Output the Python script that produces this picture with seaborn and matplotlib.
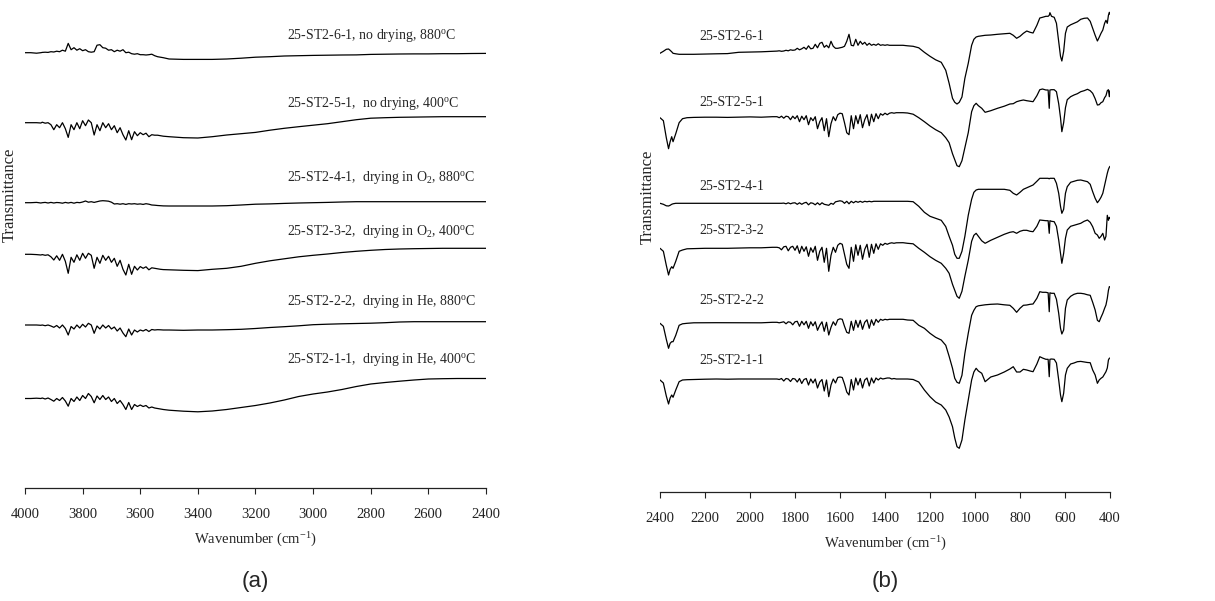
import numpy as np
import pandas as pd
import matplotlib
matplotlib.use("Agg")
import matplotlib.pyplot as plt
import seaborn as sns

# ---- wavenumber grids (cm-1) ----
left_wn = [4000, 3980, 3960, 3945] + list(range(3940, 3510, -10)) + list(range(3500, 2350, -50))
right_wn = ([2400, 2385, 2372, 2362, 2355, 2348, 2342, 2330, 2315, 2300,
             2280, 2250, 2200, 2150, 2100, 2050, 2000, 1950, 1900]
            + list(range(1880, 1330, -10))
            + [1320, 1300, 1275, 1250, 1225, 1200, 1175, 1150, 1130, 1115,
               1100, 1090, 1080, 1070, 1058, 1045, 1030, 1015, 1005, 995,
               985, 970, 955, 930, 900, 870, 845, 830, 815, 800,
               785, 770, 755, 742, 725, 712, 700, 685, 675, 670,
               667, 660, 648, 638, 628, 620, 614, 606, 598, 590,
               575, 560, 545, 530, 515, 500, 488, 477, 466, 456,
               448, 440, 432, 424, 418, 412, 407, 403, 400])

samples = ["25-ST2-6-1", "25-ST2-5-1", "25-ST2-4-1", "25-ST2-3-2", "25-ST2-2-2", "25-ST2-1-1"]
left_labels = [
    "25-ST2-6-1, no drying, 880$^{\\mathrm{o}}$C",
    "25-ST2-5-1,  no drying, 400$^{\\mathrm{o}}$C",
    "25-ST2-4-1,  drying in O$_{2}$, 880$^{\\mathrm{o}}$C",
    "25-ST2-3-2,  drying in O$_{2}$, 400$^{\\mathrm{o}}$C",
    "25-ST2-2-2,  drying in He, 880$^{\\mathrm{o}}$C",
    "25-ST2-1-1,  drying in He, 400$^{\\mathrm{o}}$C",
]

# ---- transmittance (a.u.), relative to the first point of each trace ----
# panel (a): 4000-2400 cm-1
l_61 = [0, 0, -0.5, 0,
        0.3, 0.5, 0.3, 1, 0.7, 1.5, 1, 2.5, 1.5, 9.3,
        3, 5, 2.5, 4, 2, 3, 1, 0.5, 1, 7.5,
        8, 5, 4.5, 2.5, 3, 1, 2.5, 1.5, 3, 0,
        0.5, -1, -1.5, -1, -2, -2, -2.3, -2, -1.5, -3,
        -4, -4.5, -5,
        -6.3, -6.7, -6.7, -6.7, -6.3, -5.5, -4.5, -4, -3.3, -3, -2.7, -2.5,
        -2.3, -2.2, -1.7, -1.5, -1.3, -1.2, -1.2, -1, -1, -0.8, -0.7]
l_51 = [0, 0, 0, -0.3,
        0.5, -0.5, 0, -2, -7, -2, -5, 0, -6, -14.7,
        -2, -7, 0, -6, 2, -3, 2.7, 0, -12.3, -2,
        -8, 0, -5, -1, -7, -3, -10, -5, -12, -17.3,
        -8, -17, -9, -13, -10, -12, -10.5, -14, -12, -12.5,
        -12.5, -13, -13.5,
        -14, -15, -15.3, -14, -12.3, -11, -9.7, -7.5, -5.6, -4, -2.5, -1,
        1, 3, 4.5, 5, 5.4, 5.6, 5.8, 6, 6, 6, 6]
l_41 = [0, 0, 0.3, -0.3,
        0, 0.3, -0.3, 0.3, -0.3, 0.2, 0, -0.5, 0.3, -0.3,
        0.3, -0.5, 0.3, 0, 0.7, 1.7, 0.5, 1, 0.3, 1,
        1.7, 2, 1.8, 1.5, 0.5, -1.3, -1, -1.5, -1, -1.7,
        -1, -1.3, -1, -1.5, -1.2, -1.7, -1, -1.5, -2.3, -2.5,
        -2.8, -3, -3.2,
        -3.3, -3.3, -3.3, -3.3, -3, -2.3, -1.5, -1.2, -0.7, -0.3, 0, 0.3,
        0.7, 1, 1, 1, 1, 1, 1, 1, 1, 1, 1]
l_32 = [0, 0, -0.3, -0.7,
        -0.3, -1, -0.5, -2.5, -5.7, -1.5, -6, 0, -7, -19,
        -3, -8, -0.5, -6, 1, -4, 1, -1, -14, -3,
        -9, -1, -6, -2, -8, -4, -12, -6, -15, -20.7,
        -10, -20, -12, -15.7, -12.3, -14, -12.5, -15.5, -13.5, -14,
        -14.5, -15, -15.3,
        -15.5, -16, -16.3, -15, -14, -12, -9, -6.5, -4.5, -2.5, -1, 0.3,
        1.8, 3, 4, 4.8, 5.3, 5.6, 5.8, 6, 6, 6, 6]
l_22 = [0, 0, 0, -0.3,
        0, -0.7, 0, -1, -2.3, -0.5, -3, 0, -3.5, -10,
        -1.5, -4, 0, -3, 0.7, -2, 1.7, 0, -8.3, -1,
        -4, 0, -3, -0.5, -4, -2, -6, -3, -8, -11.7,
        -4, -10, -5, -7, -5, -6, -4.5, -6.5, -4.5, -5,
        -4.7, -4.8, -5,
        -5, -5.3, -5, -5, -4.7, -4.3, -3.5, -2.5, -1.7, -0.8, 0.3, 0.8,
        1.2, 1.5, 1.8, 2.3, 3, 3.3, 3.3, 3.3, 3.3, 3.3, 3.3]
l_11 = [0, 0, 0.3, 0,
        0.5, -0.5, 0.5, -1, -2.7, 0, -2, 1, -2.5, -7.7,
        0, -3, 1.5, -2, 3, 0, 5, 2, -4.3, 2.5,
        -1, 3, -1, 1.5, -3, 0, -5, -2, -6, -11,
        -4, -11, -6, -8, -6.5, -8, -7, -9.5, -8.5, -9.5,
        -10, -10.5, -11,
        -11.7, -12.7, -13.3, -12.5, -11, -9, -7, -4.5, -1.5, 2, 4.5, 6.5,
        9, 12, 14.5, 16, 17.3, 18.5, 19.5, 19.8, 20, 20, 20]
left_offsets = [435.3, 365.3, 285.3, 233.7, 163, 89.5]

# panel (b): 2400-400 cm-1
r_61 = ([0, 2, 4, 4.3, 3, 1.5, 0, -0.5, -1, -1, -1, -1, -0.7, -0.5, -0.3, 1, 1.2, 1.5, 2]
        + [2.2, 2.5, 2, 2.3, 3, 2.5, 3.5, 3, 3.3, 5,
           3.5, 4.5, 6, 4, 7.5, 4.5, 5, 9, 5.5, 10,
           11, 6, 8, 5.5, 12, 7, 5, 5, 5.5, 6,
           7, 12, 19, 8, 7.5, 14, 8, 12, 9, 11,
           8, 10, 8, 9, 8, 9.5, 8, 8.5, 8, 8.5,
           8, 8, 8, 8, 8]
        + [8, 7.5, 7, 5.5, 1, -3, -6.5, -9, -17, -30,
           -45, -49, -50.7, -49, -43.7, -25, -10, 8, 14, 16.3,
           17, 17.5, 18, 18.3, 19, 19.5, 20, 18, 15, 17,
           20, 22.3, 21, 20.3, 28, 35.3, 36, 37, 37, 38,
           40.6, 37, 36, 30, 12, -3, -7.7, 2, 20, 26.3,
           28.5, 30, 31.5, 34, 35, 35.3, 32, 25, 18, 12.3,
           16, 20, 23.3, 30, 33, 30, 38, 41, 39])
r_51 = ([0, -3, -20, -31, -24, -19, -24, -16, -5, -1, 0, 0.3, 0.5, 0.5, 0.3, 0.5, 0.8, 0.5, 1]
        + [1, 0, 1.5, -0.5, 1.5, 1, -2, 1.5, -1, 2,
           -4, 1.5, -2, 2, -7, 0, -3, 1, -11, -4,
           0, -13, -1, -19, -6, 1, -3, 3, 4.5, 4,
           -5, -15, -17, 2, -11, 2, -6, 3, -10, -2,
           3, -8, 3.5, -4, 4, -1, 4, 2.5, 4.5, 3,
           4.5, 5, 4.5, 5, 5]
        + [5, 4.7, 3.5, 0, -4, -8.3, -12, -15, -20, -25,
           -36, -42, -48, -49, -43, -30, -15, 6, 12, 14.4,
           12, 9.4, 5.4, 7, 9.4, 11.5, 13.7, 14, 16, 17,
           17.7, 17, 16.5, 16, 22, 28, 28.7, 27.7, 27.7, 9.4,
           27.7, 28, 28, 26, 14, 0, -14, -5, 10, 18,
           21, 22.7, 24, 26, 27, 28.4, 27, 24.4, 19, 12.7,
           13, 15, 16, 20, 22, 27, 28, 21, 27])
r_41 = ([0, -1, -2.5, -2.7, -2, -1, -0.5, 0, 0, 0, 0, 0, 0, 0, 0, 0, 0, 0, 0]
        + [0, 0, 0, 0.2, -0.5, 0.5, -0.5, 0.3, 0.5, -1,
           0.5, -1, 0.3, 1, -1.5, 0.5, 0, -1.5, 0.5, -1.5,
           0.5, -1, -1.5, -2, 0, -1, 1.5, 2, 2.5, 2,
           0, 2, -0.5, 2, 0.5, 2, 1, 2, 1, 2,
           1.5, 2, 1.5, 2, 2, 2, 2, 2, 2, 2,
           2, 2, 2, 2, 2]
        + [2, 2, 1.6, -3, -9, -13, -15, -17, -23.4, -33,
           -42, -51, -55, -55, -48, -33, -12, 4, 11, 13.3,
           14, 14, 14, 14, 14, 14, 13, 10, 8.3, 11,
           14, 15.5, 17, 18.3, 22, 25, 25, 25, 25, 24.5,
           25, 25, 25, 20, 10, -3, -10, -6, 10, 16.6,
           21, 22, 23, 23.3, 22.5, 21.6, 19, 11.6, 5, 0.6,
           3, 6, 10, 18, 24, 30, 34, 36, 37])
r_32 = ([0, -3, -17, -26.7, -21, -18.4, -20, -13, -3, -1.7, -0.5, -0.3, 0, 0, 0, 0.3, 0.5, 0.5, 1]
        + [1, 0.5, -1.5, 1.5, 2, -2.5, 1, 2, -2, 2.5,
           -5, 2, -3, 1.5, -8, 0.5, -4, 2, -12, -3,
           1, -14, 0, -23, -7, 1, -4, 3, 5, 4,
           -6, -16, -20, 1, -13, 3.5, -7, 3, -11, -1,
           4, -9, 4, -5, 4.5, -1, 4.5, 3, 5, 4,
           5, 5.5, 5, 5.5, 5.5]
        + [5.6, 5, 4.5, 0, -4, -8.4, -12, -15, -20, -25,
           -36, -42, -48, -50, -43, -28, -12, 7, 13, 15,
           12, 7.5, 5, 8, 11, 14, 16, 16.6, 15, 17,
           18, 18, 17, 16.6, 22, 28.3, 28, 27.6, 27.6, 15,
           27.6, 27, 26.6, 22, 8.3, -5, -15, -5, 10, 18.3,
           22, 23, 24, 25, 27, 28.3, 26, 21.6, 15, 13.3,
           10, 12, 15, 8.3, 12, 33, 28, 31, 30])
r_22 = ([0, -3, -16, -25, -20, -18.4, -18.4, -12, -2, -0.5, 0, 0.5, 0.6, 0.6, 0.6, 0.6, 0.7, 0.5, 1]
        + [1, 0.5, 1, 1.5, -0.5, 1.5, 1, -1.5, 1.5, 2,
           -3, 2, -1.5, 2, -5, 1.5, -2.5, 1.5, -7, -2,
           1.5, -8, 1, -11.7, -4, 1.5, -2, 3.5, 4.5, 4,
           -3, -9, -10, 2, -7, 3, -4, 3, -6, 1,
           3.5, -5, 3.5, -2, 4, 1, 4, 3, 4, 3.5,
           4, 4, 4, 4, 4]
        + [4, 3.3, 3, -2, -5, -10, -14, -16.7, -22, -33,
           -45, -55, -59, -60, -52, -30, -10, 8, 13, 16.6,
           17.5, 18, 18.5, 19, 19.3, 18.5, 18, 15, 11, 15,
           18, 18.3, 19, 19.3, 25, 31.6, 31, 31, 30.5, 11.6,
           30.5, 30, 30, 24, 10, -5, -10.7, -6.7, 15, 23.3,
           27, 29, 30, 30, 29.5, 28.5, 28, 21, 13.3, 3,
           1.6, 6, 10, 15, 18.3, 25, 33, 36.6, 36.6])
r_11 = ([0, -3, -16, -24, -18, -15, -17.3, -10, -1.7, 0, 0.3, 0.5, 0.8, 1, 0.8, 1, 1, 1, 1]
        + [1, 0.5, 1.5, -1, 1.5, 1, -1.5, 1.5, 1, -2,
           1.5, -3.5, 0.5, 1.5, -5, 1, -3, 1, -8, -2,
           0.5, -11, 0, -16.7, -5, 1, -3, 2.5, 3, 2.5,
           -4, -12, -15, 0.5, -10, 2, -5, 1.5, -8, 0,
           2, -6, 2, -3, 2, 0, 2, 1, 1.5, 2,
           2, 1, 1.5, 1, 1]
        + [1, 1, 0.5, -2, -10, -16.7, -22, -25, -30, -37,
           -46.7, -58, -66.7, -68.3, -60, -40, -20, 0, 8, 11.7,
           9, 6.7, -1.7, 3, 5, 8, 11, 13.3, 8, 8,
           10.7, 10, 9, 8.3, 16, 23.3, 22, 20.7, 20.7, 3.3,
           20.7, 21, 20.7, 17, 0, -15, -21.7, -13.3, 5, 11.7,
           16, 17, 18.3, 18.6, 18, 17.5, 17.3, 10, 5, -3.3,
           0, 1.7, 3, 6, 8.3, 12, 20, 21.7, 22])
right_offsets = [438.7, 374.3, 288.7, 243.7, 168.7, 112]

left_traces = [l_61, l_51, l_41, l_32, l_22, l_11]
right_traces = [r_61, r_51, r_41, r_32, r_22, r_11]


def build_frame(wn, traces, offsets):
    rows = []
    for name, vals, off in zip(samples, traces, offsets):
        assert len(vals) == len(wn), (name, len(vals), len(wn))
        rows.append(pd.DataFrame({"wn": wn, "T": np.array(vals) + off, "sample": name}))
    return pd.concat(rows, ignore_index=True)


df_left = build_frame(left_wn, left_traces, left_offsets)
df_right = build_frame(right_wn, right_traces, right_offsets)

# ---- style ----
sns.set_style("ticks")
plt.rcParams["font.family"] = ["Liberation Serif", "DejaVu Serif"]
plt.rcParams["mathtext.fontset"] = "custom"
plt.rcParams["mathtext.rm"] = "Liberation Serif"
plt.rcParams["mathtext.it"] = "Liberation Serif:italic"

fig = plt.figure(figsize=(12.15, 6.01), dpi=100)
ax_l = fig.add_axes([25 / 1215, 113 / 601, 461 / 1215, 488 / 601])
ax_r = fig.add_axes([660 / 1215, 109 / 601, 450 / 1215, 492 / 601])

sns.lineplot(data=df_left, x="wn", y="T", units="sample", estimator=None,
             sort=False, color="black", lw=0.9, ax=ax_l)
sns.lineplot(data=df_right, x="wn", y="T", units="sample", estimator=None,
             sort=False, color="black", lw=0.9, ax=ax_r)

ax_l.set_xlim(4000, 2400)
ax_l.set_ylim(0, 488)
ax_l.set_xticks(range(4000, 2399, -200))
ax_r.set_xlim(2400, 400)
ax_r.set_ylim(0, 492)
ax_r.set_xticks(range(2400, 399, -200))

# text labels for each trace
left_label_y = [453, 385, 311, 256, 186, 129]
right_label_y = [455, 389, 306, 262, 192, 131]
for txt, y in zip(left_labels, left_label_y):
    ax_l.text(3091, y, txt, fontsize=10, ha="left", va="center")
for txt, y in zip(samples, right_label_y):
    ax_r.text(2227, y, txt, fontsize=10, ha="left", va="center")

for ax in (ax_l, ax_r):
    sns.despine(ax=ax, left=True)
    ax.spines["bottom"].set_linewidth(0.9)
    ax.spines["bottom"].set_color("#222222")
    ax.set_yticks([])
    ax.set_ylabel("")
    ax.tick_params(axis="x", direction="out", length=4, width=0.8,
                   pad=10.5, labelsize=10.5, colors="#222222")
    ax.set_xlabel("Wavenumber (cm$^{-1}$)", fontsize=10.5, labelpad=7)
    ax.patch.set_alpha(0)

fig.text(10 / 1215, 1 - 195 / 601, "Transmittance", rotation=90,
         ha="center", va="center", fontsize=12)
fig.text(648 / 1215, 1 - 197 / 601, "Transmittance", rotation=90,
         ha="center", va="center", fontsize=12)
fig.text(255 / 1215, 1 - 582 / 601, "(a)", ha="center", va="center",
         fontsize=16, family=["Liberation Sans", "DejaVu Sans"])
fig.text(885 / 1215, 1 - 582 / 601, "(b)", ha="center", va="center",
         fontsize=16, family=["Liberation Sans", "DejaVu Sans"])

fig.savefig("out.png", dpi=100)
plt.close(fig)
